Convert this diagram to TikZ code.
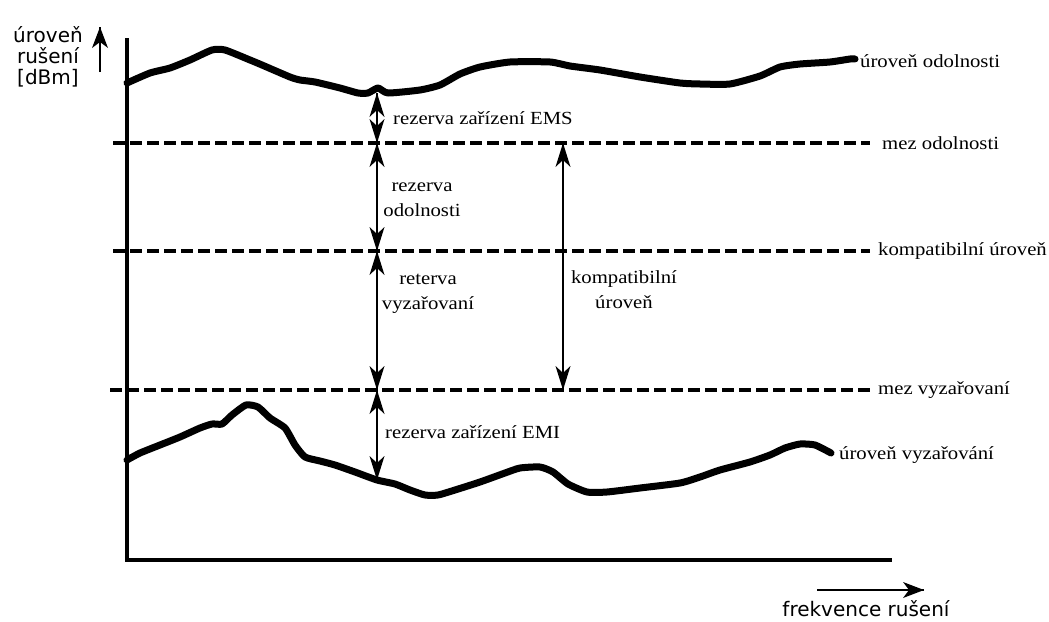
\documentclass[tikz,border=0pt]{standalone}
\usepackage{fontspec}
\newfontfamily\serifl[FakeStretch=1.12]{Liberation Serif}
\newfontfamily\sansl{DejaVu Sans}
\tikzset{
  curve/.style={line width=7pt, line join=round, line cap=round},
  limit/.style={line width=3.6pt, dash pattern=on 12pt off 5pt},
  axis/.style={line width=3.4pt},
  dim/.style={line width=1.7pt},
  axarrow/.style={line width=1.9pt},
  % arrow heads: tip at the origin, pointing up
  dart/.pic={\fill (0,0) -- (-7.5,24) -- (0,17) -- (7.5,24) -- cycle;},
  bigdart/.pic={\fill (0,0) -- (-8,21) -- (0,15) -- (8,21) -- cycle;},
  lab/.style={font=\serifl\fontsize{18.5}{25}\selectfont, inner sep=0pt},
  slab/.style={font=\sansl\fontsize{20}{21}\selectfont, inner sep=0pt},
}
\begin{document}
\begin{tikzpicture}[x=1pt,y=-1pt]
\useasboundingbox (0,0) rectangle (1049,621);
\fill[white] (0,0) rectangle (1049,621);

% axes
\coordinate (o) at (127,560);
\coordinate (ytop) at (127,38);
\coordinate (xend) at (892,560);
\draw[axis] (ytop) -- (o) -- (xend);

% axis direction arrows and their labels
\coordinate (ya1) at (100,72);
\coordinate (ya2) at (100,27);
\draw[axarrow] (ya1) -- (ya2);
\pic at (ya2) {bigdart};
\node[slab, align=center] (ylab) at (48,57) {úroveň\\rušení\\{[dBm]}};
\coordinate (xa1) at (817,590);
\coordinate (xa2) at (924,590);
\draw[axarrow] (xa1) -- (xa2);
\pic[rotate=-90] at (xa2) {bigdart};
\node[slab] (xlab) at (866,609) {frekvence rušení};

% immunity level
\draw[curve] plot[smooth, tension=0.35] coordinates {
 (127,83) (150,73) (170,68) (190,60) (212,50) (225,50) (250,60) (262,65)
 (290,77) (300,80) (315,82) (340,88) (358,93) (368,93) (378,88) (388,93)
 (420,90) (440,85) (460,74) (480,67) (510,62) (550,62) (570,66) (600,70)
 (640,77) (680,83) (700,84) (730,84) (760,76) (780,67) (800,64) (830,62)
 (850,59) (855,59)};
\node[lab, anchor=west] (imm) at (860,61) {úroveň odolnosti};

% emission level
\draw[curve] plot[smooth, tension=0.35] coordinates {
 (127,460) (140,453) (160,445) (180,437) (200,428) (212,424) (222,424)
 (232,415) (246,405) (258,407) (270,418) (285,428) (295,445) (305,457)
 (320,461) (335,465) (355,472) (377,480) (395,484) (410,490) (425,495)
 (438,495) (455,490) (480,482) (505,473) (520,468) (540,467) (553,472)
 (568,484) (587,492) (607,492) (640,488) (680,483) (700,477) (720,470)
 (750,462) (770,455) (785,448) (800,444) (815,445) (831,453)};
\node[lab, anchor=west] (emi) at (839,455) {úroveň vyzařování};

% limit lines
\coordinate (l1a) at (113,143); \coordinate (l1b) at (870,143);
\coordinate (l2a) at (113,251); \coordinate (l2b) at (870,251);
\coordinate (l3a) at (110,390); \coordinate (l3b) at (870,390);
\draw[limit] (l1a) -- (l1b);
\draw[limit] (l2a) -- (l2b);
\draw[limit] (l3a) -- (l3b);
\node[lab, anchor=west] (mo) at (882,143) {mez odolnosti};
\node[lab, anchor=west] (ku) at (878,251) {kompatibilní úroveň};
\node[lab, anchor=west] (mv) at (878,390) {mez vyzařovaní};

% margins between the levels (double-headed)
\coordinate (c1) at (377,93);
\coordinate (m1) at (377,143);
\coordinate (m2) at (377,251);
\coordinate (m3) at (377,390);
\coordinate (c2) at (377,480);
\coordinate (k1) at (563,143);
\coordinate (k2) at (563,390);
\foreach \a/\b in {c1/m1, m1/m2, m2/m3, m3/c2, k1/k2} {
  \draw[dim] (\a) -- (\b);
  \pic at (\a) {dart};
  \pic[rotate=180] at (\b) {dart};
}

\node[lab, anchor=west] (ems) at (393,118) {rezerva zařízení EMS};
\node[lab, align=center] (ro) at (422,200) {rezerva\\odolnosti};
\node[lab, align=center] (rv) at (428,294) {reterva\\vyzařovaní};
\node[lab, anchor=west] (emir) at (385,432) {rezerva zařízení EMI};
\node[lab, align=center] (kom) at (624,290) {kompatibilní\\úroveň};
\end{tikzpicture}
\end{document}
